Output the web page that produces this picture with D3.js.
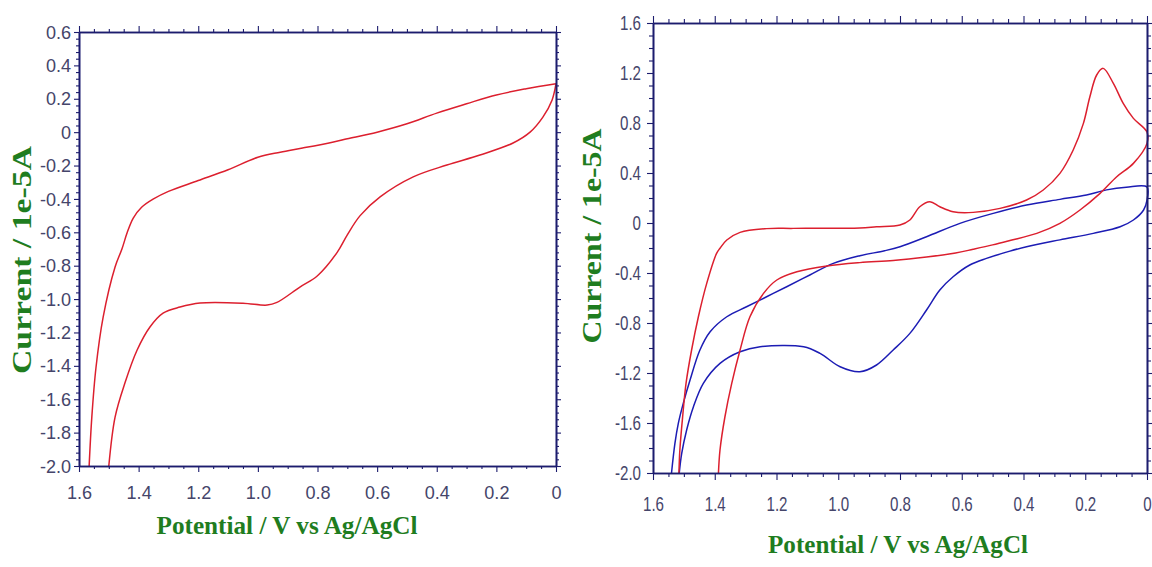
<!DOCTYPE html>
<html>
<head>
<meta charset="utf-8">
<script src="https://cdn.jsdelivr.net/npm/d3@7"></script>
<style>
  html, body { margin: 0; padding: 0; background: #fff; }
  svg { display: block; }
</style>
</head>
<body>
<svg id="chart" width="1152" height="567"></svg>
<script>
// ---- data: [potential V, current 1e-5 A] ----
const leftUpper = [
  [1.566, -2.0], [1.557, -1.707], [1.543, -1.41], [1.519, -1.108], [1.479, -0.808],
  [1.456, -0.7], [1.438, -0.6], [1.418, -0.515], [1.39, -0.45], [1.35, -0.4],
  [1.3, -0.355], [1.2, -0.29], [1.1, -0.225], [1.0, -0.15], [0.925, -0.12],
  [0.85, -0.095], [0.75, -0.06], [0.7, -0.04], [0.6, 0.0], [0.5, 0.05],
  [0.4, 0.114], [0.3, 0.17], [0.2, 0.223], [0.1, 0.26], [0.0, 0.29]
];
const leftLower = [
  [0.0, 0.29], [0.013, 0.193], [0.044, 0.09], [0.087, 0.0], [0.144, -0.065],
  [0.255, -0.137], [0.366, -0.197], [0.479, -0.268], [0.59, -0.388], [0.657, -0.5],
  [0.7, -0.615], [0.734, -0.72], [0.8, -0.86], [0.859, -0.928],
  [0.936, -1.02], [0.969, -1.036], [1.05, -1.025], [1.194, -1.024], [1.261, -1.048],
  [1.318, -1.084], [1.362, -1.167], [1.405, -1.305], [1.446, -1.503], [1.479, -1.707], [1.5, -2.0]
];
const redUpper = [
  [1.516, -2.0], [1.513, -1.816], [1.504, -1.55], [1.493, -1.283], [1.475, -1.016],
  [1.453, -0.75], [1.426, -0.483], [1.394, -0.243], [1.383, -0.202], [1.361, -0.136],
  [1.318, -0.075], [1.232, -0.045], [1.146, -0.043], [0.93, -0.04], [0.876, -0.03],
  [0.8, -0.016], [0.768, 0.024], [0.736, 0.13], [0.703, 0.17], [0.671, 0.13],
  [0.628, 0.09], [0.563, 0.085], [0.476, 0.117], [0.39, 0.184], [0.336, 0.264],
  [0.282, 0.397], [0.239, 0.584], [0.206, 0.797], [0.185, 1.01], [0.163, 1.184],
  [0.142, 1.237], [0.109, 1.117], [0.077, 0.957], [0.044, 0.837], [0.0, 0.728]
];
const redLower = [
  [0.0, 0.637], [0.044, 0.477], [0.098, 0.37], [0.152, 0.237], [0.217, 0.104],
  [0.282, -0.003], [0.357, -0.083], [0.444, -0.14], [0.5, -0.175], [0.563, -0.21],
  [0.62, -0.24], [0.714, -0.272], [0.822, -0.3], [0.93, -0.317], [1.037, -0.344],
  [1.134, -0.39], [1.199, -0.456], [1.242, -0.563], [1.286, -0.75], [1.318, -1.016],
  [1.345, -1.283], [1.367, -1.55], [1.383, -1.816], [1.388, -2.0]
];
const blueUpper = [
  [1.54, -2.0], [1.529, -1.763], [1.518, -1.603], [1.502, -1.443], [1.48, -1.256],
  [1.448, -1.016], [1.415, -0.87], [1.361, -0.75], [1.297, -0.67], [1.232, -0.59],
  [1.167, -0.51], [1.092, -0.416], [1.016, -0.323], [0.93, -0.262], [0.85, -0.222],
  [0.8, -0.19], [0.714, -0.11], [0.606, -0.003], [0.498, 0.077], [0.39, 0.144],
  [0.282, 0.189], [0.196, 0.224], [0.131, 0.265], [0.067, 0.286], [0.0, 0.288]
];
const blueLower = [
  [0.0, 0.184], [0.011, 0.104], [0.044, 0.024], [0.087, -0.03], [0.174, -0.083],
  [0.282, -0.135], [0.39, -0.19], [0.444, -0.225], [0.52, -0.283], [0.574, -0.336],
  [0.628, -0.43], [0.671, -0.536], [0.714, -0.696], [0.768, -0.883], [0.822, -1.016],
  [0.876, -1.136], [0.93, -1.19], [0.994, -1.15], [1.059, -1.043], [1.112, -0.99],
  [1.253, -0.99], [1.318, -1.03], [1.383, -1.123], [1.437, -1.283], [1.469, -1.47],
  [1.491, -1.656], [1.507, -1.843], [1.515, -2.0]
];

const xTicks = [1.6, 1.4, 1.2, 1.0, 0.8, 0.6, 0.4, 0.2, 0];
const leftYTicks = [0.6, 0.4, 0.2, 0, -0.2, -0.4, -0.6, -0.8, -1.0, -1.2, -1.4, -1.6, -1.8, -2.0];
const rightYTicks = [1.6, 1.2, 0.8, 0.4, 0, -0.4, -0.8, -1.2, -1.6, -2.0];
const xTitle = "Potential / V vs Ag/AgCl";
const yTitle = "Current / 1e-5A";

const AXIS = "#1c1c6e";
const LABEL = "#45456a";
const GREEN = "#1f7d1f";

const svg = d3.select("#chart");
const fmt = (d) => (Math.abs(d) < 1e-9 ? "0" : d3.format(".1f")(d).replace("−", "-"));

// squeeze text horizontally to mimic the narrow face in the picture
function squeeze(sel, k) {
  sel.each(function () {
    const w = this.getComputedTextLength();
    d3.select(this).attr("textLength", w * k).attr("lengthAdjust", "spacingAndGlyphs");
  });
}

function drawPanel(p) {
  const g = svg.append("g");
  const x = d3.scaleLinear().domain([1.6, 0]).range([p.x0, p.x1]);
  const y = d3.scaleLinear().domain(p.yDomain).range([p.y1, p.y0]);

  const minorX = d3.range(0, 1.6001, 0.05).filter((v) => Math.abs(v / 0.2 - Math.round(v / 0.2)) > 1e-6);
  const minorY = d3.range(p.yDomain[0], p.yDomain[1] + 1e-6, p.yMinor)
    .filter((v) => Math.abs(v / p.yStep - Math.round(v / p.yStep)) > 1e-6);

  const layers = [
    [d3.axisBottom(x).tickValues(xTicks).tickSize(p.major).tickPadding(p.xPad).tickFormat(fmt), `translate(0,${p.y1})`, true],
    [d3.axisBottom(x).tickValues(minorX).tickSize(p.minor).tickFormat(""), `translate(0,${p.y1})`, false],
    [d3.axisTop(x).tickValues(xTicks).tickSize(p.major).tickFormat(""), `translate(0,${p.y0})`, false],
    [d3.axisTop(x).tickValues(minorX).tickSize(p.minor).tickFormat(""), `translate(0,${p.y0})`, false],
    [d3.axisLeft(y).tickValues(p.yTicks).tickSize(p.major - 1).tickPadding(p.yPad).tickFormat(fmt), `translate(${p.x0},0)`, true],
    [d3.axisLeft(y).tickValues(minorY).tickSize(p.minor).tickFormat(""), `translate(${p.x0},0)`, false],
    [d3.axisRight(y).tickValues(p.yTicks).tickSize(p.major - 1).tickFormat(""), `translate(${p.x1},0)`, false],
    [d3.axisRight(y).tickValues(minorY).tickSize(p.minor).tickFormat(""), `translate(${p.x1},0)`, false]
  ];

  // curves first so the frame sits on top
  const line = d3.line().x((d) => x(d[0])).y((d) => y(d[1])).curve(d3.curveCatmullRom.alpha(0.5));
  p.series.forEach((s) => {
    g.append("path")
      .attr("d", line(s.points))
      .attr("fill", "none")
      .attr("stroke", s.color)
      .attr("stroke-width", 1.5)
      .attr("stroke-linejoin", "round");
  });

  layers.forEach(([axis, tr, labelled]) => {
    const a = g.append("g").attr("transform", tr).call(axis.tickSizeOuter(0));
    a.select(".domain").attr("stroke", AXIS).attr("stroke-width", 1.6);
    a.selectAll(".tick line").attr("stroke", AXIS).attr("stroke-width", 1.1);
    if (labelled) {
      a.selectAll(".tick text")
        .attr("fill", LABEL)
        .style("font-family", "'Liberation Sans', Arial, sans-serif")
        .style("font-size", p.labelSize + "px");
      squeeze(a.selectAll(".tick text"), p.squeeze);
    }
  });

  g.append("text")
    .attr("x", p.xTitle[0]).attr("y", p.xTitle[1])
    .attr("text-anchor", "middle")
    .attr("fill", GREEN)
    .style("font-family", "'Liberation Serif', 'Times New Roman', serif")
    .style("font-weight", "bold")
    .style("font-size", "26px")
    .attr("textLength", p.xTitle[2]).attr("lengthAdjust", "spacingAndGlyphs")
    .text(xTitle);

  g.append("text")
    .attr("transform", `translate(${p.yTitle[0]},${p.yTitle[1]}) rotate(-90)`)
    .attr("text-anchor", "middle")
    .attr("fill", GREEN)
    .style("font-family", "'Liberation Serif', 'Times New Roman', serif")
    .style("font-weight", "bold")
    .style("font-size", "27px")
    .attr("textLength", p.yTitle[2]).attr("lengthAdjust", "spacingAndGlyphs")
    .text(yTitle);
}

drawPanel({
  x0: 79, x1: 556, y0: 32, y1: 466,
  yDomain: [-2.0, 0.6], yTicks: leftYTicks, yStep: 0.2, yMinor: 0.04,
  major: 6, minor: 3, xPad: 14, yPad: 3,
  labelSize: 19, squeeze: 0.95,
  xTitle: [287, 534, 261], yTitle: [31, 260, 228],
  series: [{ points: leftUpper.concat(leftLower), color: "#dc1f2e" }]
});

drawPanel({
  x0: 653, x1: 1147, y0: 23, y1: 473,
  yDomain: [-2.0, 1.6], yTicks: rightYTicks, yStep: 0.4, yMinor: 0.1,
  major: 7, minor: 4, xPad: 16, yPad: 6,
  labelSize: 21, squeeze: 0.72,
  xTitle: [898, 553, 260], yTitle: [601, 236, 215],
  series: [
    { points: blueUpper.concat(blueLower), color: "#1c1cb4" },
    { points: redUpper.concat(redLower), color: "#dc1f2e" }
  ]
});
</script>
</body>
</html>
